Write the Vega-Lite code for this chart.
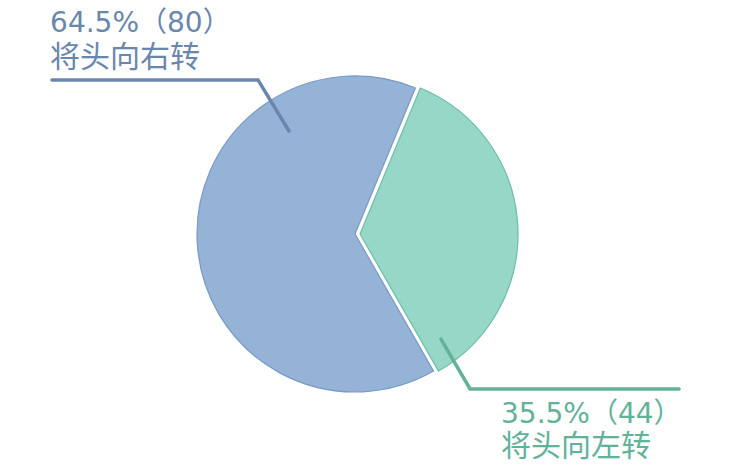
{
  "$schema": "https://vega.github.io/schema/vega-lite/v6.json",
  "width": 750,
  "height": 473,
  "autosize": {"type": "fit", "contains": "padding"},
  "padding": 0,
  "background": "white",
  "config": {"view": {"stroke": null}},
  "datasets": {
    "slices": [
      {"label": "将头向左转", "count": 44, "order": 1},
      {"label": "将头向右转", "count": 80, "order": 2}
    ],
    "leaders": [
      {"side": "right", "seq": 1, "x": -1.918, "y": 0.975},
      {"side": "right", "seq": 2, "x": -0.614, "y": 0.975},
      {"side": "right", "seq": 3, "x": -0.418, "y": 0.652},
      {"side": "left", "seq": 1, "x": 0.544, "y": -0.665},
      {"side": "left", "seq": 2, "x": 0.728, "y": -0.981},
      {"side": "left", "seq": 3, "x": 2.051, "y": -0.981}
    ],
    "labels": [
      {"side": "right", "kind": "value", "text": "64.5%（80）", "x": -1.93, "y": 1.2785},
      {"side": "right", "kind": "name", "text": "将头向右转", "x": -1.93, "y": 1.054},
      {"side": "left", "kind": "value", "text": "35.5%（44）", "x": 0.924, "y": -1.196},
      {"side": "left", "kind": "name", "text": "将头向左转", "x": 0.924, "y": -1.408}
    ]
  },
  "layer": [
    {
      "data": {"name": "slices"},
      "transform": [
        {"stack": "count", "groupby": [], "sort": [{"field": "order"}], "as": ["t0", "t1"]},
        {"filter": "datum.order == 2"}
      ],
      "mark": {"type": "arc", "radius": 158, "fill": "#95b3d7", "stroke": "#7a99c4", "strokeWidth": 1.2},
      "encoding": {
        "x": {"datum": 0, "type": "quantitative", "scale": {"domain": [-2.247, 2.5], "nice": false, "zero": false}, "axis": null},
        "y": {"datum": 0, "type": "quantitative", "scale": {"domain": [-1.513, 1.481], "nice": false, "zero": false}, "axis": null},
        "theta": {"field": "t0", "type": "quantitative", "scale": {"domain": [0, 124], "range": [0.392, 6.6752]}},
        "theta2": {"field": "t1"}
      }
    },
    {
      "data": {"name": "slices"},
      "transform": [
        {"stack": "count", "groupby": [], "sort": [{"field": "order"}], "as": ["t0", "t1"]},
        {"filter": "datum.order == 1"}
      ],
      "mark": {"type": "arc", "radius": 158, "fill": "#96d7c7", "stroke": "#6cbea6", "strokeWidth": 1.2, "xOffset": 5},
      "encoding": {
        "x": {"datum": 0, "type": "quantitative"},
        "y": {"datum": 0, "type": "quantitative"},
        "theta": {"field": "t0", "type": "quantitative"},
        "theta2": {"field": "t1"}
      }
    },
    {
      "data": {"name": "leaders"},
      "mark": {"type": "line", "strokeWidth": 3.5, "strokeCap": "round", "strokeJoin": "miter"},
      "encoding": {
        "x": {"field": "x", "type": "quantitative"},
        "y": {"field": "y", "type": "quantitative"},
        "order": {"field": "seq"},
        "detail": {"field": "side"},
        "color": {
          "field": "side",
          "type": "nominal",
          "scale": {"domain": ["right", "left"], "range": ["#6987ad", "#62b29a"]},
          "legend": null
        }
      }
    },
    {
      "data": {"name": "labels"},
      "transform": [{"filter": "datum.kind == 'value'"}],
      "mark": {"type": "text", "align": "left", "baseline": "alphabetic", "font": "DejaVu Sans, Noto Sans CJK SC", "fontSize": 28},
      "encoding": {
        "x": {"field": "x", "type": "quantitative"},
        "y": {"field": "y", "type": "quantitative"},
        "text": {"field": "text"},
        "color": {"field": "side", "type": "nominal", "legend": null}
      }
    },
    {
      "data": {"name": "labels"},
      "transform": [{"filter": "datum.kind == 'name'"}],
      "mark": {"type": "text", "align": "left", "baseline": "alphabetic", "font": "Noto Sans CJK SC", "fontSize": 30},
      "encoding": {
        "x": {"field": "x", "type": "quantitative"},
        "y": {"field": "y", "type": "quantitative"},
        "text": {"field": "text"},
        "color": {"field": "side", "type": "nominal", "legend": null}
      }
    }
  ]
}
